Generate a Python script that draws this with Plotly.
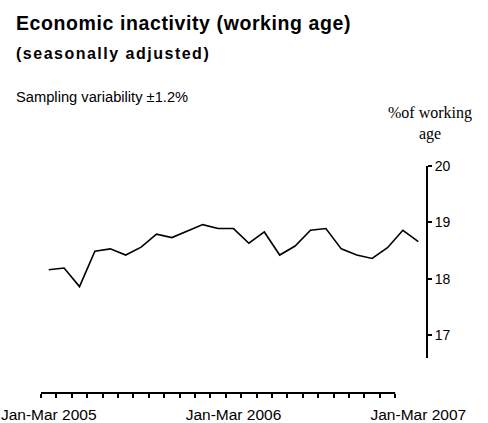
import plotly.graph_objects as go

periods = ["Jan-Mar 2005", "Feb-Apr 2005", "Mar-May 2005", "Apr-Jun 2005", "May-Jul 2005",
           "Jun-Aug 2005", "Jul-Sep 2005", "Aug-Oct 2005", "Sep-Nov 2005", "Oct-Dec 2005",
           "Nov-Jan 2006", "Dec-Feb 2006", "Jan-Mar 2006", "Feb-Apr 2006", "Mar-May 2006",
           "Apr-Jun 2006", "May-Jul 2006", "Jun-Aug 2006", "Jul-Sep 2006", "Aug-Oct 2006",
           "Sep-Nov 2006", "Oct-Dec 2006", "Nov-Jan 2007", "Dec-Feb 2007", "Jan-Mar 2007"]
inactivity = [18.16, 18.19, 17.86, 18.49, 18.53, 18.42, 18.56, 18.79, 18.73, 18.85,
              18.96, 18.89, 18.89, 18.63, 18.83, 18.42, 18.58, 18.86, 18.89, 18.53,
              18.42, 18.36, 18.55, 18.86, 18.66]
label_idx = [0, 12, 24]
y_ticks = [17, 18, 19, 20]
n_axis_cats = 23  # categories spanned by the drawn x-axis line

xs = list(range(len(periods)))
boundaries = [i - 0.5 for i in range(n_axis_cats + 1)]

W, H = 488, 423
ml = 40.6
mt = 165.5
plot_bottom = 393.5
mb = H - plot_bottom
mr = W - 426.0
plot_w = W - ml - mr
plot_h = H - mt - mb
y_axis_bottom = 358
dom_start = (plot_bottom - y_axis_bottom) / plot_h


def px(xp):
    return (xp - ml) / plot_w


def py(yp):
    return 1 - (yp - mt) / plot_h


font_sans = "Liberation Sans, Arial, sans-serif"
font_serif = "Liberation Serif, Times New Roman, serif"

fig = go.Figure()
fig.add_trace(go.Scatter(x=xs, y=inactivity, mode="lines", text=periods,
                         hovertemplate="%{text}: %{y}<extra></extra>",
                         line=dict(color="black", width=1.6)))
fig.add_trace(go.Scatter(x=[xs[0], xs[-1]], y=[None, None], xaxis="x2",
                         showlegend=False, hoverinfo="skip"))

fig.update_layout(
    width=W, height=H, margin=dict(l=ml, r=mr, t=mt, b=mb, pad=0, autoexpand=False),
    paper_bgcolor="white", plot_bgcolor="white", showlegend=False,
    font=dict(family=font_sans, size=14, color="black"),
    xaxis=dict(range=[-0.5, len(periods) - 0.5], anchor="free", position=0,
               automargin=False, showline=False, showgrid=False, zeroline=False,
               tickmode="array", tickvals=boundaries, ticks="outside", ticklen=4,
               tickwidth=1.5, tickcolor="black", showticklabels=False),
    xaxis2=dict(range=[-0.5, len(periods) - 0.5], overlaying="x", anchor="free",
                position=0, side="bottom", automargin=False, showline=False,
                showgrid=False, zeroline=False, tickmode="array", tickvals=label_idx,
                ticktext=[periods[i] for i in label_idx], ticks="",
                ticklabelstandoff=10, ticklabeloverflow="allow",
                tickfont=dict(family=font_sans, size=15.5, color="black")),
    yaxis=dict(range=[16.6, 20], domain=[dom_start, 1], side="right", automargin=False,
               showline=True, linecolor="black", linewidth=1.8,
               showgrid=False, zeroline=False, tickmode="array", tickvals=y_ticks,
               ticks="outside", ticklen=4, tickwidth=1.5, tickcolor="black",
               tickfont=dict(family=font_sans, size=14, color="black")),
    shapes=[dict(type="line", xref="x", yref="paper", x0=boundaries[0],
                 x1=boundaries[-1], y0=0, y1=0,
                 line=dict(color="black", width=1.8))],
    annotations=[
        dict(text="<b><span style='letter-spacing:0.6px'>Economic inactivity (working age)</span></b>",
             xref="paper", yref="paper", x=px(14), xanchor="left",
             y=py(21.5), yanchor="middle", showarrow=False,
             font=dict(family=font_sans, size=19.5)),
        dict(text="<b><span style='letter-spacing:1.5px'>(seasonally adjusted)</span></b>",
             xref="paper", yref="paper", x=px(14), xanchor="left",
             y=py(53), yanchor="middle", showarrow=False,
             font=dict(family=font_sans, size=16)),
        dict(text="Sampling variability ±1.2%", xref="paper", yref="paper",
             x=px(14), xanchor="left", y=py(96), yanchor="middle", showarrow=False,
             font=dict(family=font_sans, size=14.7)),
        dict(text="%of working<br>age", xref="paper", yref="paper",
             x=px(430.5), xanchor="center", y=py(123), yanchor="middle",
             showarrow=False, font=dict(family=font_serif, size=16)),
    ],
)

fig.write_html("out.html", config={"displayModeBar": False},
               post_script="document.body.style.margin='0px';")
